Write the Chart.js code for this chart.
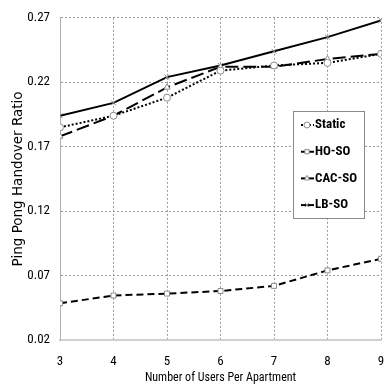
<!DOCTYPE html>
<html>
<head>
<meta charset="utf-8">
<script src="https://cdn.jsdelivr.net/npm/chart.js@4/dist/chart.umd.min.js"></script>
<style>
  html, body { margin: 0; padding: 0; background: #fff; }
  #wrap { width: 386px; height: 389px; }
</style>
</head>
<body>
<div id="wrap"><canvas id="chart" width="386" height="389"></canvas></div>
<script>
// values
const users = [3, 4, 5, 6, 7, 8, 9];
const staticRatio = [0.185, 0.194, 0.208, 0.229, 0.233, 0.235, 0.242];
const hoSoRatio = [0.0485, 0.0545, 0.056, 0.058, 0.062, 0.074, 0.083];
const cacSoRatio = [0.178, 0.194, 0.216, 0.232, 0.232, 0.238, 0.242];
const lbSoRatio = [0.194, 0.204, 0.224, 0.233, 0.244, 0.255, 0.268];
const seriesNames = ["Static", "HO-SO", "CAC-SO", "LB-SO"];
const yTicks = [0.02, 0.07, 0.12, 0.17, 0.22, 0.27];

const narrow = "'Roboto Condensed', 'DejaVu Sans Condensed', sans-serif";

function toPoints(vals) {
    return users.map((u, i) => ({ x: u, y: vals[i] }));
}

function makeSet(name, vals, dash, style) {
    return {
        label: name,
        data: toPoints(vals),
        borderColor: "#000",
        borderWidth: 2,
        borderDash: dash,
        pointStyle: style,
        pointRadius: 3.5,
        pointBorderColor: "#8c8c8c",
        pointBackgroundColor: "#fff",
        pointBorderWidth: 1,
        fill: false,
        tension: 0,
    };
}

const legendDash = [[2, 2], [5, 3], [], []];

// boxed legend sitting inside the plot, like the original
const boxLegend = {
    id: "boxLegend",
    afterDraw(chart) {
        const ctx = chart.ctx;
        const x0 = 293, y0 = 111, w = 71, h = 107;
        ctx.save();
        ctx.fillStyle = "#fff";
        ctx.fillRect(x0, y0, w, h);
        ctx.strokeStyle = "#8a8a8a";
        ctx.lineWidth = 1;
        ctx.strokeRect(x0 + 0.5, y0 + 0.5, w, h);
        chart.data.datasets.forEach((ds, i) => {
            const cy = y0 + 14 + i * 26.7;
            ctx.setLineDash(legendDash[i]);
            ctx.strokeStyle = "#000";
            ctx.lineWidth = 2;
            ctx.beginPath();
            ctx.moveTo(x0 + 8, cy);
            ctx.lineTo(x0 + 21, cy);
            ctx.stroke();
            ctx.setLineDash([]);
            ctx.fillStyle = "#fff";
            ctx.strokeStyle = "#8c8c8c";
            ctx.lineWidth = 1;
            Chart.helpers.drawPoint(ctx, {
                pointStyle: ds.pointStyle,
                rotation: 0,
                radius: 3,
                borderWidth: 1,
            }, x0 + 14, cy);
            ctx.fillStyle = "#000";
            ctx.font = "bold 13px " + narrow;
            ctx.textBaseline = "middle";
            ctx.fillText(seriesNames[i], x0 + 22, cy);
        });
        ctx.restore();
    },
};

const ctx = document.getElementById("chart").getContext("2d");
new Chart(ctx, {
    type: "line",
    data: {
        datasets: [
            makeSet(seriesNames[0], staticRatio, [2, 2], "circle"),
            makeSet(seriesNames[1], hoSoRatio, [7, 4], "rect"),
            makeSet(seriesNames[2], cacSoRatio, [13, 5], "triangle"),
            makeSet(seriesNames[3], lbSoRatio, [], "crossRot"),
        ],
    },
    options: {
        responsive: false,
        animation: false,
        layout: { padding: { top: 14, right: 4, left: 0, bottom: 0 } },
        plugins: {
            legend: { display: false },
            tooltip: { enabled: false },
        },
        scales: {
            x: {
                type: "linear",
                min: 3,
                max: 9,
                ticks: {
                    stepSize: 1,
                    color: "#000",
                    font: { family: narrow, size: 13 },
                    padding: 14,
                },
                grid: { color: "#9a9a9a", lineWidth: 1, drawTicks: false },
                border: { color: "#d0d0d0", width: 2, dash: [2, 2] },
                title: {
                    display: true,
                    text: "Number of Users Per Apartment",
                    color: "#000",
                    font: { family: narrow, size: 12 },
                    padding: { top: 0, bottom: 4 },
                },
                afterFit(scale) {
                    scale.height = 49;
                    scale.paddingLeft = 0;
                    scale.paddingRight = 0;
                },
            },
            y: {
                min: 0.02,
                max: 0.27,
                afterBuildTicks(scale) {
                    scale.ticks = yTicks.map(v => ({ value: v }));
                },
                ticks: {
                    color: "#000",
                    font: { family: narrow, size: 13 },
                    padding: 10,
                    callback: v => v.toFixed(2),
                },
                grid: { color: "#9a9a9a", lineWidth: 1, drawTicks: false },
                border: { color: "#b0b0b0", width: 1, dash: [2, 2] },
                title: {
                    display: true,
                    text: "Ping Pong Handover Ratio",
                    color: "#000",
                    font: { family: "'DejaVu Sans', sans-serif", size: 13.5 },
                    padding: { top: 10, bottom: 0 },
                },
                afterFit(scale) { scale.width = 60; },
            },
        },
    },
    plugins: [boxLegend],
});
</script>
</body>
</html>
